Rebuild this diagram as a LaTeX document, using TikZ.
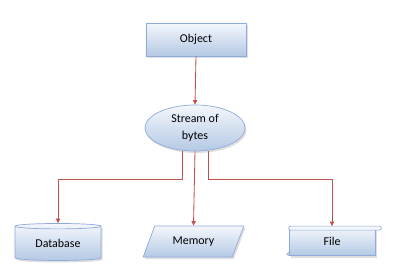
\documentclass[tikz,border=0pt]{standalone}
\usepackage{fontspec}
\setmainfont{Carlito}
\usetikzlibrary{shapes.geometric,arrows.meta,shadows}
\definecolor{bordbleu}{HTML}{8FAADC}
\definecolor{hautbleu}{HTML}{F4F7FC}
\definecolor{basbleu}{HTML}{B4C9E4}
\definecolor{lien}{HTML}{C0504D}
\tikzset{
  boite/.style={draw=bordbleu, line width=0.5pt, top color=hautbleu, bottom color=basbleu,
    inner sep=0pt, font=\fontsize{8.5}{10}\selectfont,
    drop shadow={opacity=0.25, shadow xshift=0.4mm, shadow yshift=-0.5mm}},
  lien/.style={draw=lien, line width=0.6pt, -{Triangle[length=3.2pt,width=3pt]}}
}
\begin{document}
\begin{tikzpicture}[x=0.025cm,y=-0.025cm]
\useasboundingbox[fill=white] (0,0) rectangle (400,278);

% Objet en haut
\node[boite, minimum width=25mm, minimum height=8.25mm] (obj) at (196,39.5) {Object};

% Flux d'octets
\node[boite, ellipse, minimum width=25mm, minimum height=11.5mm, align=center]
  (flux) at (195,128) {Stream of\\[2pt]bytes};

% Base de donnees (cylindre)
\node[boite, cylinder, shape border rotate=90, aspect=0.12,
  minimum width=21.5mm, minimum height=9.25mm] (bdd) at (58,243.5) {Database};

% Memoire (parallelogramme)
\node[boite, trapezium, trapezium left angle=57, trapezium right angle=123,
  trapezium stretches=true, minimum width=25.25mm, minimum height=7.75mm]
  (mem) at (193.5,241.5) {Memory};

% Fichier (rouleau)
\node[boite, minimum width=21.5mm, minimum height=7.25mm] (fich) at (332,241) {File};
\draw[bordbleu, line width=0.4pt, fill=hautbleu]
  ([xshift=0.5mm]fich.north west) -- ([xshift=1mm]fich.north east)
  arc (90:-90:0.5mm) -- ([yshift=-1mm]fich.north west);
\draw[bordbleu, line width=0.4pt, fill=hautbleu]
  ([xshift=0.5mm]fich.north west) arc (90:270:0.5mm);
\draw[bordbleu, line width=0.4pt, fill=basbleu]
  ([yshift=0.9mm]fich.south west) arc (90:270:0.45mm);

% Liaisons
\coordinate (bus) at (0,179);
\draw[lien] (obj.south) -- (flux.north);
\draw[lien] (flux.-120) |- (bus -| bdd.north) -- (bdd.north);
\draw[lien] (flux.south) -- (mem.north);
\draw[lien] (flux.-60) |- (bus -| fich.north) -- (fich.north);

\end{tikzpicture}
\end{document}
